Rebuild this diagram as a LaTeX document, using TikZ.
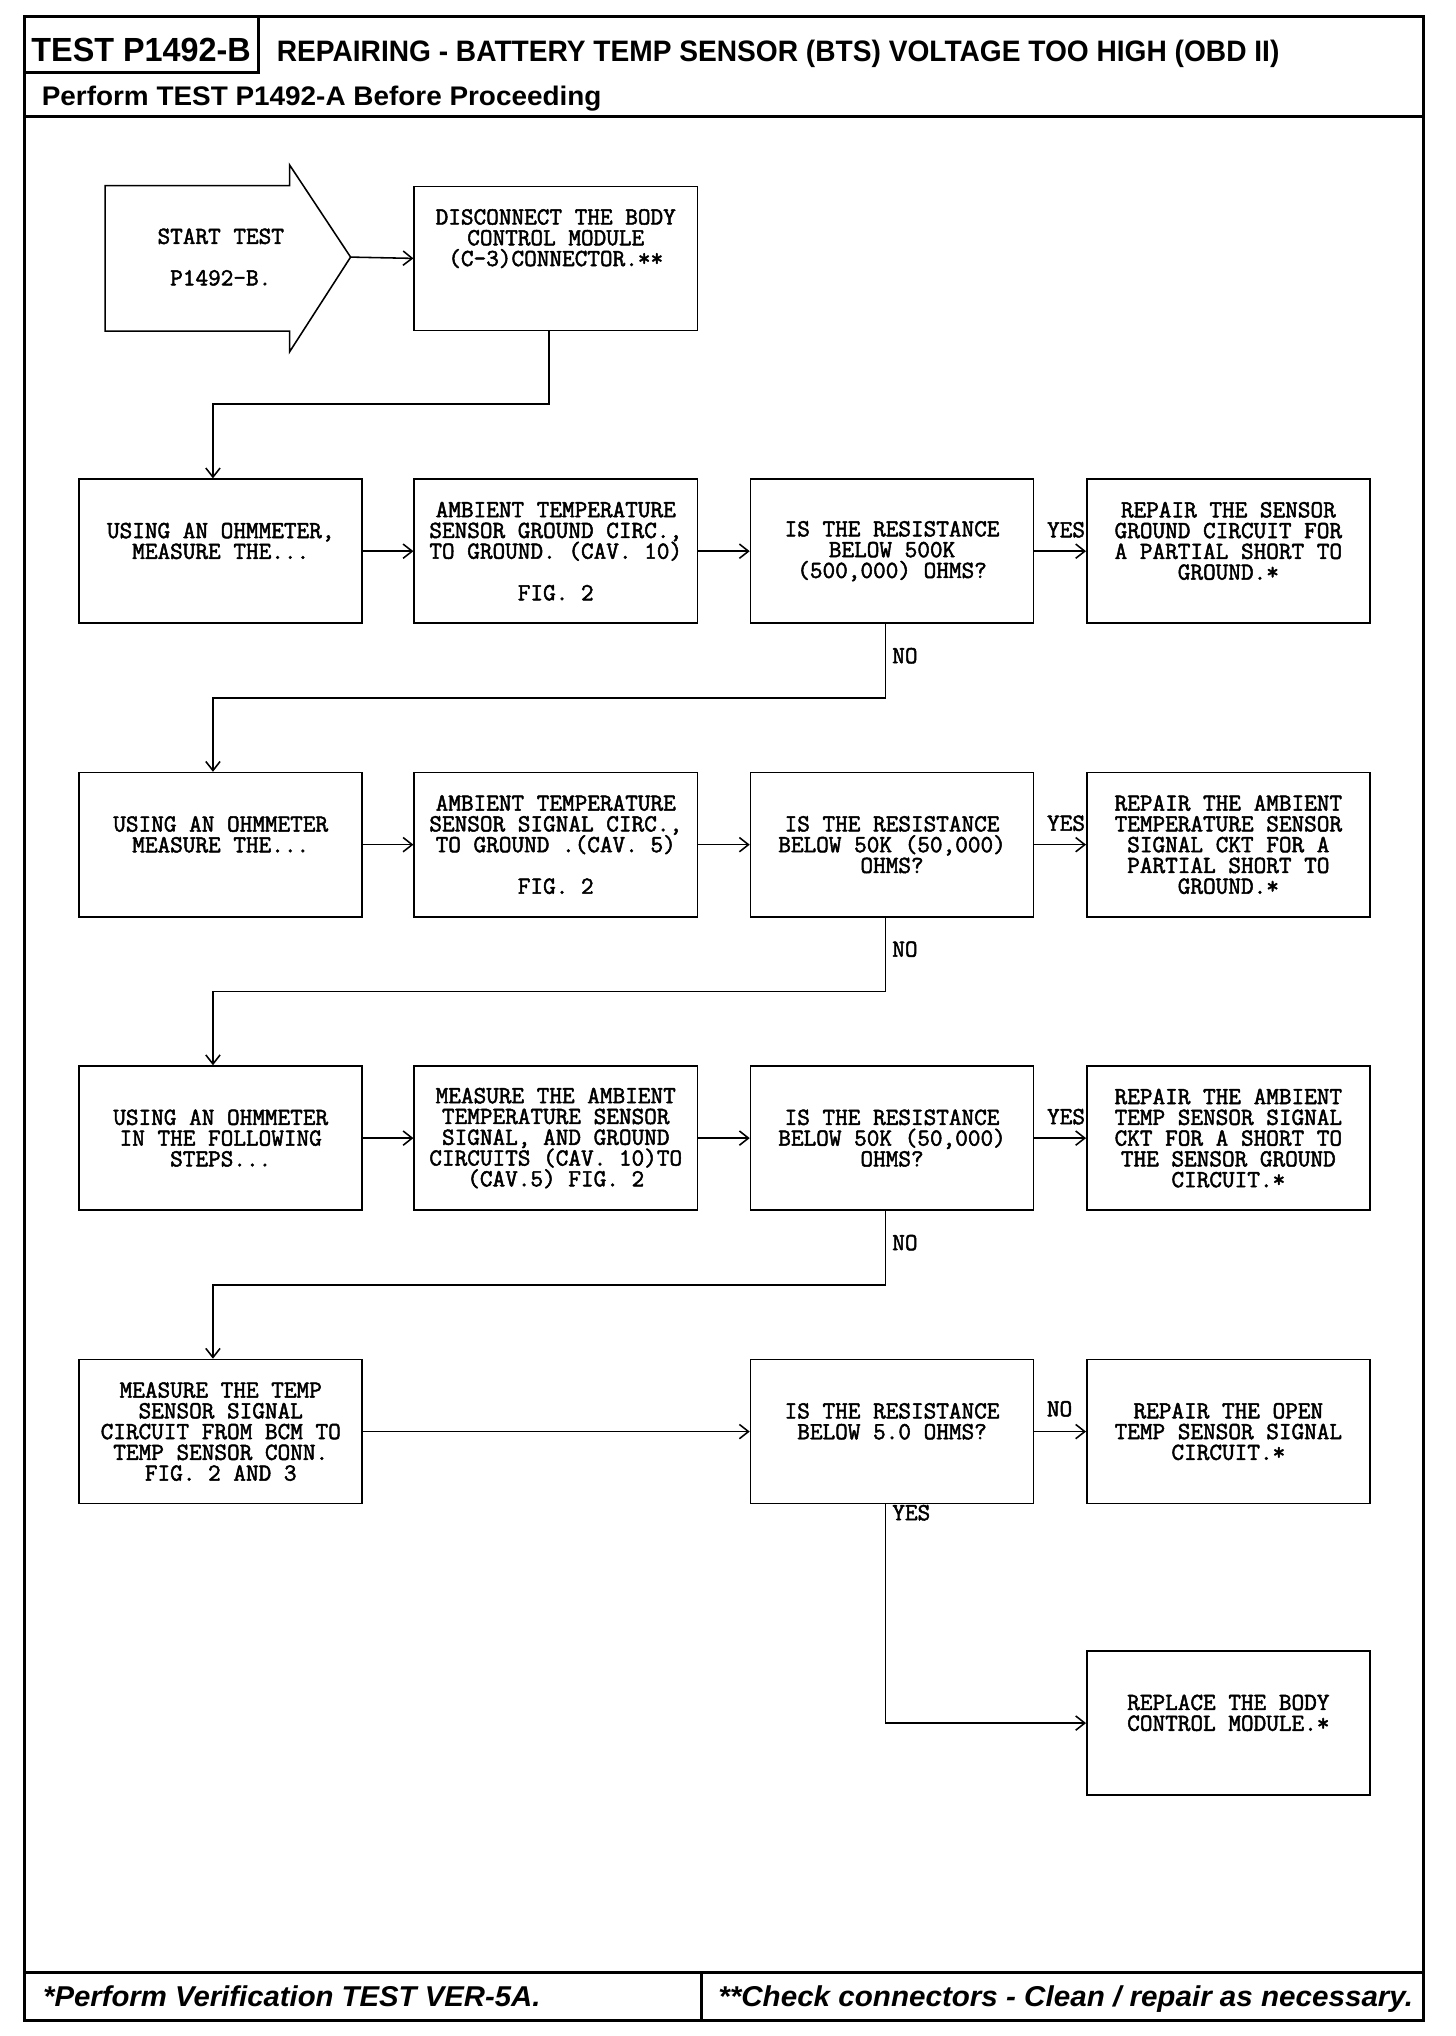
\documentclass[tikz,border=0pt]{standalone}
\usepackage{fontspec}
\setmainfont{Liberation Sans}
\newfontfamily\bxmono[FakeBold=2]{Latin Modern Mono}
\usetikzlibrary{arrows.meta}
\newcommand{\bxfont}{\bxmono\fontsize{18.9}{16}\selectfont}
\begin{document}
\begin{tikzpicture}[x=1pt,y=-1pt,
 box/.style={draw,line width=1.2pt,minimum width=218pt,minimum height=111pt,inner sep=0pt,align=center,font=\bxfont},
 conn/.style={line width=1.2pt,-{Straight Barb[length=7pt,width=11pt,line width=1.2pt]}},
 lbl/.style={inner sep=0pt,align=center,font=\bxfont},
 frame/.style={line width=2.2pt},
 hdr/.style={inner sep=0pt,anchor=base west}]
\useasboundingbox (0,0) rectangle (1121,1568);
% frame
\draw[frame] (19,13) rectangle (1096,1556);
\draw[frame] (19,90) -- (1096,90);
\draw[frame] (199,13) -- (199,56) -- (19,56);
\draw[frame] (19,1519) -- (1096,1519);
\draw[frame] (540,1519) -- (540,1556);
% header / footer texts
\node[hdr] (tbox) at (24,47) {\resizebox{169pt}{18pt}{\bfseries TEST P1492-B}};
\node[hdr] (title) at (213,47) {\resizebox{772pt}{16.5pt}{\bfseries REPAIRING - BATTERY TEMP SENSOR (BTS) VOLTAGE TOO HIGH (OBD II)}};
\node[hdr] (pre) at (32,81) {\resizebox{431pt}{15pt}{\bfseries Perform TEST P1492-A Before Proceeding}};
\node[hdr] (f1) at (33,1545) {\resizebox{383pt}{16pt}{\bfseries\itshape *Perform Verification TEST VER-5A.}};
\node[hdr] (f2) at (553,1545) {\resizebox{535pt}{16pt}{\bfseries\itshape **Check connectors - Clean / repair as necessary.}};
% start arrow
\draw[line width=1.2pt] (81,143) -- (223,143) -- (223,127) -- (270,198) -- (223,271) -- (223,255) -- (81,255) -- cycle;
\coordinate (tip) at (270,198);
\node[lbl] (start) at (170,198) {START TEST\\\mbox{}\\P1492-B.};
\node[box] (D1) at (428,199) {DISCONNECT THE BODY\\CONTROL MODULE\\(C-3)CONNECTOR.**\\\mbox{}\\\mbox{}};
% row 1
\node[box] (U1) at (170,424.5) {USING AN OHMMETER,\\MEASURE THE...\\\mbox{}};
\node[box] (A1) at (428,424.5) {AMBIENT TEMPERATURE\\SENSOR GROUND CIRC.,\\TO GROUND. (CAV. 10)\\\mbox{}\\FIG. 2};
\node[box] (Q1) at (687,424.5) {IS THE RESISTANCE\\BELOW 500K\\(500,000) OHMS?};
\node[box] (R1) at (946,424.5) {REPAIR THE SENSOR\\GROUND CIRCUIT FOR\\A PARTIAL SHORT TO\\GROUND.*\\\mbox{}};
% row 2
\node[box] (U2) at (170,650.5) {USING AN OHMMETER\\MEASURE THE...\\\mbox{}};
\node[box] (A2) at (428,650.5) {AMBIENT TEMPERATURE\\SENSOR SIGNAL CIRC.,\\TO GROUND .(CAV. 5)\\\mbox{}\\FIG. 2};
\node[box] (Q2) at (687,650.5) {IS THE RESISTANCE\\BELOW 50K (50,000)\\OHMS?};
\node[box] (R2) at (946,650.5) {REPAIR THE AMBIENT\\TEMPERATURE SENSOR\\SIGNAL CKT FOR A\\PARTIAL SHORT TO\\GROUND.*};
% row 3
\node[box] (U3) at (170,876.5) {USING AN OHMMETER\\IN THE FOLLOWING\\STEPS...};
\node[box] (A3) at (428,876.5) {MEASURE THE AMBIENT\\TEMPERATURE SENSOR\\SIGNAL, AND GROUND\\CIRCUITS (CAV. 10)TO\\(CAV.5) FIG. 2};
\node[box] (Q3) at (687,876.5) {IS THE RESISTANCE\\BELOW 50K (50,000)\\OHMS?};
\node[box] (R3) at (946,876.5) {REPAIR THE AMBIENT\\TEMP SENSOR SIGNAL\\CKT FOR A SHORT TO\\THE SENSOR GROUND\\CIRCUIT.*};
% row 4
\node[box] (U4) at (170,1102.5) {MEASURE THE TEMP\\SENSOR SIGNAL\\CIRCUIT FROM BCM TO\\TEMP SENSOR CONN.\\FIG. 2 AND 3};
\node[box] (Q4) at (687,1102.5) {IS THE RESISTANCE\\BELOW 5.0 OHMS?\\\mbox{}};
\node[box] (R4) at (946,1102.5) {REPAIR THE OPEN\\TEMP SENSOR SIGNAL\\CIRCUIT.*};
\node[box] (R5) at (946,1327) {REPLACE THE BODY\\CONTROL MODULE.*\\\mbox{}};
% connectors
\draw[conn] (tip) -- (D1.west);
\draw[conn] ([xshift=-5pt]D1.south) -- ++(0,56) -| ([xshift=-6pt]U1.north);
\draw[conn] (U1) -- (A1);
\draw[conn] (A1) -- (Q1);
\draw[conn] (Q1) -- (R1);
\draw[conn] ([xshift=-5pt]Q1.south) -- ++(0,57) -| ([xshift=-6pt]U2.north);
\draw[conn] (U2) -- (A2);
\draw[conn] (A2) -- (Q2);
\draw[conn] (Q2) -- (R2);
\draw[conn] ([xshift=-5pt]Q2.south) -- ++(0,57) -| ([xshift=-6pt]U3.north);
\draw[conn] (U3) -- (A3);
\draw[conn] (A3) -- (Q3);
\draw[conn] (Q3) -- (R3);
\draw[conn] ([xshift=-5pt]Q3.south) -- ++(0,57) -| ([xshift=-6pt]U4.north);
\draw[conn] (U4) -- (Q4);
\draw[conn] (Q4) -- (R4);
\draw[conn] ([xshift=-5pt]Q4.south) |- (R5.west);
% labels
\node[lbl] (y1) at (821,408) {YES};
\node[lbl] (y2) at (821,634) {YES};
\node[lbl] (y3) at (821,860) {YES};
\node[lbl] (n4) at (816,1085) {NO};
\node[lbl,anchor=west] (n1) at (687,505) {NO};
\node[lbl,anchor=west] (n2) at (687,731) {NO};
\node[lbl,anchor=west] (n3) at (687,957) {NO};
\node[lbl,anchor=west] (y4) at (687,1165) {YES};
\end{tikzpicture}
\end{document}
